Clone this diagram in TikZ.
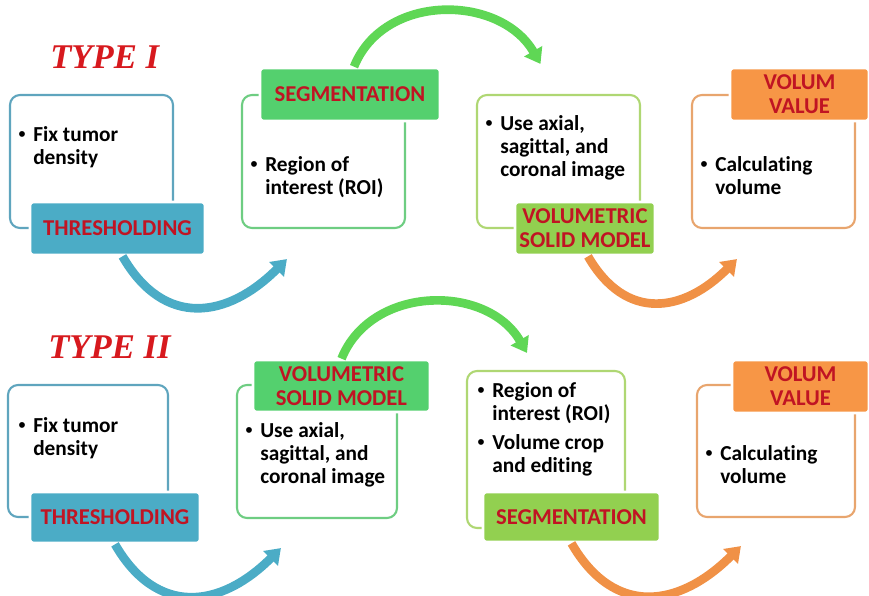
\documentclass[tikz,border=0pt]{standalone}
\usepackage{fontspec}
\setmainfont{Carlito}[Ligatures=NoCommon]
\newfontfamily\typefont{Liberation Serif}
\newfontfamily\bulfont{Liberation Sans}
\usetikzlibrary{arrows.meta}

\definecolor{aqua}{RGB}{75,172,198}
\definecolor{aqualine}{RGB}{95,165,190}
\definecolor{leaf}{RGB}{84,208,110}
\definecolor{leafline}{RGB}{110,205,130}
\definecolor{lime}{RGB}{146,208,80}
\definecolor{limeline}{RGB}{175,215,115}
\definecolor{amber}{RGB}{247,150,70}
\definecolor{amberline}{RGB}{232,165,110}
\definecolor{arcgreen}{RGB}{95,215,85}
\definecolor{arcorange}{RGB}{240,145,70}
\definecolor{tagred}{RGB}{192,20,35}
\definecolor{typered}{RGB}{215,25,30}

% bullet list: one row per line
\newcommand{\bul}[1]{\begin{tabular}[t]{@{}p{11.25pt}@{}l@{}}#1\end{tabular}}
\newcommand{\bdot}{{\bulfont\mdseries\textbullet}}

\begin{document}
\begin{tikzpicture}[x=0.75pt,y=0.75pt,
  card/.style={draw, rounded corners=7.5pt, line width=1.6pt, fill=white, inner sep=0pt},
  tag/.style={rounded corners=2.5pt, draw=white, line width=2pt, text=tagred,
    font=\bfseries\fontsize{17}{18}\selectfont, align=center, inner sep=0pt},
  txt/.style={anchor=base west, inner sep=0pt, font=\bfseries\fontsize{16}{17.25}\selectfont},
  typelbl/.style={anchor=base west, inner sep=0pt, text=typered,
    font=\typefont\bfseries\itshape\fontsize{26}{30}\selectfont},
  flow/.style={line width=6.5pt, -{Triangle[length=11pt,width=15pt]}}]
  \useasboundingbox (0,0) rectangle (869,-596);

  % headings
  \node[typelbl] (type1) at (50,-68) {TYPE I};
  \node[typelbl] (type2) at (48,-358) {TYPE II};

  % cards
  \foreach \n/\x/\y/\w/\h/\c in {a1/91.5/161.5/163/133/aqualine, b1/323.5/161.5/163/133/leafline,
      c1/558.5/161.5/163/133/limeline, d1/773.5/161.5/163/133/amberline,
      a2/88/451/160/132/aqualine, b2/317/451.5/160/133/leafline,
      c2/546/449.5/158/157/limeline, d2/776/451/158/132/amberline}
    \node[card, draw=\c, minimum width=\w*0.75pt, minimum height=\h*0.75pt] (\n) at (\x,-\y) {};

  % tags
  \foreach \n/\x/\y/\w/\h/\c/\t in {thr1/117.5/228.5/175/53/aqua/THRESHOLDING,
      seg1/350/94.5/180/53/leaf/SEGMENTATION,
      vsm1/585/228.5/140/53/lime/{VOLUMETRIC\\SOLID MODEL},
      vol1/799.5/94.5/139/53/amber/{VOLUM\\VALUE},
      thr2/115/517.5/170/51/aqua/THRESHOLDING,
      vsm2/341.5/386/177/52/leaf/{VOLUMETRIC\\SOLID MODEL},
      seg2/571.5/517/177/50/lime/SEGMENTATION,
      vol2/800.5/386.5/137/53/amber/{VOLUM\\VALUE}}
    \node[tag, fill=\c, minimum width=\w*0.75pt, minimum height=\h*0.75pt] (\n) at (\x,-\y) {\t};

  % texts, type I
  \node[txt] (a1t) at (18,-141) {\bul{\bdot & Fix tumor\\ & density}};
  \node[txt] (b1t) at (250,-171) {\bul{\bdot & Region of\\ & interest (ROI)}};
  \node[txt] (c1t) at (485,-130) {\bul{\bdot & Use axial,\\ & sagittal, and\\ & coronal image}};
  \node[txt] (d1t) at (700,-171) {\bul{\bdot & Calculating\\ & volume}};

  % texts, type II
  \node[txt] (a2t) at (18,-432) {\bul{\bdot & Fix tumor\\ & density}};
  \node[txt] (b2t) at (245,-437) {\bul{\bdot & Use axial,\\ & sagittal, and\\ & coronal image}};
  \node[txt] (c2t) at (477,-397) {\bul{\bdot & Region of\\ & interest (ROI)\\[4.5pt]
      \bdot & Volume crop\\ & and editing}};
  \node[txt] (d2t) at (705,-460) {\bul{\bdot & Calculating\\ & volume}};

  % arrows, type I
  \draw[flow, aqua] ([shift={(5,0)}]thr1.south) to[out=-60, in=-135, looseness=1.3]
    ([shift={(46,-30)}]b1.south west);
  \draw[flow, arcgreen] ([shift={(4,0)}]seg1.north) to[out=68, in=120, looseness=1.1]
    ([shift={(-18,30)}]c1.north);
  \draw[flow, arcorange] ([shift={(3,0)}]vsm1.south) to[out=-60, in=-135, looseness=1.3]
    ([shift={(46,-30)}]d1.south west);

  % arrows, type II
  \draw[flow, aqua] (thr2.south) to[out=-60, in=-135, looseness=1.3]
    ([shift={(45,-29)}]b2.south west);
  \draw[flow, arcgreen] (vsm2.north) to[out=68, in=120, looseness=1.1]
    ([shift={(-19,17)}]c2.north);
  \draw[flow, arcorange] (seg2.south) to[out=-60, in=-135, looseness=1.3]
    ([shift={(45,-28)}]d2.south west);
\end{tikzpicture}
\end{document}
